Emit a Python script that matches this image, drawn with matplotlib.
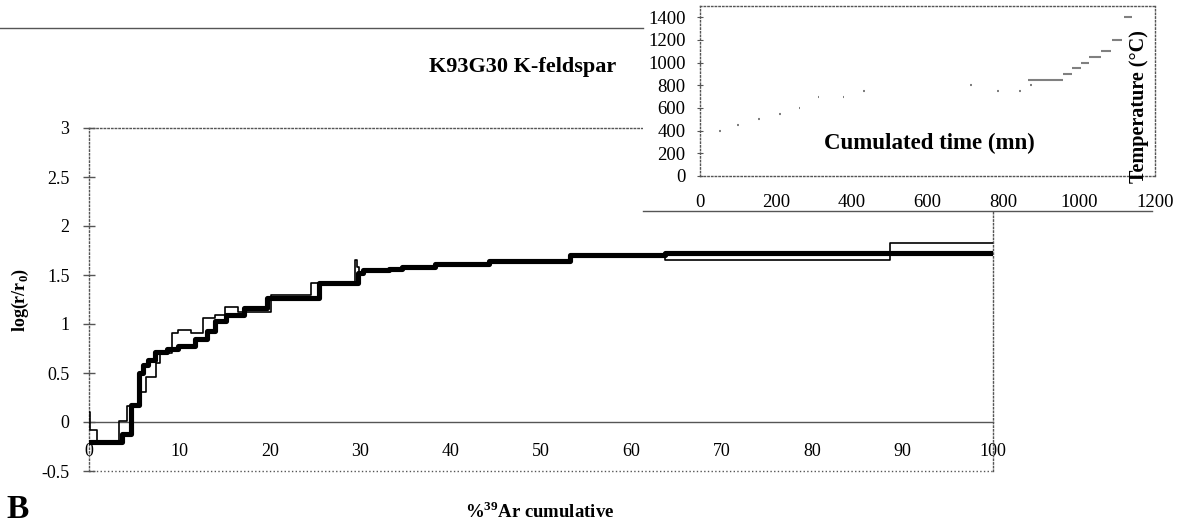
import numpy as np
import matplotlib.pyplot as plt
from matplotlib.lines import Line2D

plt.rcParams['font.family'] = 'Liberation Serif'
plt.rcParams['mathtext.fontset'] = 'custom'
plt.rcParams['mathtext.rm'] = 'Liberation Serif'
plt.rcParams['mathtext.bf'] = 'Liberation Serif:bold'

# log(r/r0) step curves, x = %39Ar cumulative (step starts)
pct_thin = [0, 0.1, 0.9, 3.3, 4.2, 5.6, 6.3, 7.4, 7.9, 9.2, 9.9, 11.3, 12.6, 13.9,
            15.0, 16.5, 20.1, 24.6, 29.4, 29.6, 29.9, 30.4, 33.2, 34.6, 38.3, 44.2,
            53.2, 63.7, 88.6, 100]
val_thin = [0.1, -0.08, -0.2, 0.01, 0.16, 0.31, 0.46, 0.6, 0.7, 0.91, 0.94, 0.91, 1.06, 1.09,
            1.17, 1.12, 1.30, 1.42, 1.65, 1.58, 1.52, 1.55, 1.56, 1.58, 1.61, 1.64,
            1.70, 1.65, 1.83, 1.83]

pct_thick = [0, 3.6, 4.6, 5.5, 6.0, 6.5, 7.3, 8.6, 9.9, 11.7, 13.0, 13.9, 15.2, 17.2,
             19.7, 25.4, 29.8, 30.3, 33.2, 34.6, 38.3, 44.2, 53.2, 63.7, 100]
val_thick = [-0.2, -0.12, 0.17, 0.5, 0.58, 0.63, 0.71, 0.74, 0.78, 0.85, 0.93, 1.03, 1.09, 1.16,
             1.27, 1.42, 1.52, 1.55, 1.56, 1.58, 1.61, 1.64, 1.70, 1.72, 1.72]

# inset: heating steps (start, end in mn, temperature in C)
t_start = [50, 97, 152, 209, 260, 310, 376, 430, 712, 783, 842, 871,
           865, 958, 980, 1004, 1027, 1058, 1086, 1117]
t_end   = [55, 102, 157, 214, 265, 315, 381, 435, 717, 788, 847, 876,
           958, 980, 1004, 1027, 1058, 1084, 1112, 1140]
temp    = [400, 450, 500, 550, 600, 700, 700, 750, 800, 750, 750, 800,
           850, 900, 950, 1000, 1050, 1100, 1200, 1400]

W, H = 1191, 524
fig = plt.figure(figsize=(W/100, H/100), dpi=100)

def fx(px): return px / W
def fy(py): return 1 - py / H

ax = fig.add_axes([fx(89), fy(471), fx(993 - 89), (471 - 128) / H])
ax.step(pct_thin, val_thin, where='post', color='black', lw=1.2, zorder=3)
ax.step(pct_thick, val_thick, where='post', color='black', lw=3.7, zorder=4)
ax.set_xlim(0, 100)
ax.set_ylim(-0.5, 3)
ax.set_yticks(np.arange(-0.5, 3.01, 0.5))
ax.set_yticklabels(['-0.5', '0', '0.5', '1', '1.5', '2', '2.5', '3'])
ax.tick_params(axis='y', direction='inout', length=8, width=1, color='#555555',
               labelsize=13, pad=10)
ax.set_xticks(np.arange(0, 101, 10))
ax.tick_params(axis='x', length=0, labelsize=13, pad=15)
for s in ['top', 'right', 'left']:
    ax.spines[s].set_linestyle(':')
    ax.spines[s].set_color('#555555')
    ax.spines[s].set_linewidth(1)
ax.spines['bottom'].set_position(('data', 0))
ax.spines['bottom'].set_color('#555555')
ax.spines['bottom'].set_linewidth(1)
ax.plot([0, 1], [0, 0], transform=ax.transAxes, ls=':', color='#555555', lw=1, clip_on=False)

fig.text(fx(20), fy(300), r'log(r/r$_\mathbf{0}$)', rotation=90, ha='center', va='center',
         fontsize=13, fontweight='bold')
fig.text(fx(540), fy(512), r'%$^{\mathbf{39}}$Ar cumulative', ha='center', va='center',
         fontsize=13.5, fontweight='bold')
fig.text(fx(6), fy(510), 'B', ha='left', va='center', fontsize=24, fontweight='bold')
fig.text(fx(523), fy(67), 'K93G30 K-feldspar', ha='center', va='center',
         fontsize=16, fontweight='bold')
fig.add_artist(Line2D([0, fx(643)], [fy(28), fy(28)], color='#555555', lw=1))

# white panel behind inset
bg = fig.add_axes([fx(643), fy(211), 1 - fx(643), 211 / H])
bg.set_xticks([])
bg.set_yticks([])
for s in ['top', 'right', 'left']:
    bg.spines[s].set_visible(False)
bg.spines['bottom'].set_color('#555555')
bg.spines['bottom'].set_bounds(0, (1152 - 643) / (W - 643))
bg.spines['bottom'].set_linewidth(1)

ins = fig.add_axes([fx(700), fy(176), fx(1155 - 700), (176 - 6) / H])
ins.hlines(temp, t_start, t_end, color='#808080', lw=1.5)
ins.set_xlim(0, 1200)
ins.set_ylim(0, 1500)
ins.set_xticks(np.arange(0, 1201, 200))
ins.set_yticks(np.arange(0, 1401, 200))
ins.tick_params(axis='x', length=0, labelsize=13.5, pad=13)
ins.tick_params(axis='y', direction='inout', length=5, color='#555555', labelsize=13.5, pad=8)
for s in ins.spines.values():
    s.set_linestyle(':')
    s.set_color('#555555')
    s.set_linewidth(1)
ins.text(0.505, 0.19, 'Cumulated time (mn)', transform=ins.transAxes, ha='center',
         va='center', fontsize=16.5, fontweight='bold')
ins.text(0.965, 0.41, 'Temperature (°C)', transform=ins.transAxes, ha='center',
         va='center', rotation=90, fontsize=14.5, fontweight='bold', clip_on=False)

fig.savefig('out.png', dpi=100)
